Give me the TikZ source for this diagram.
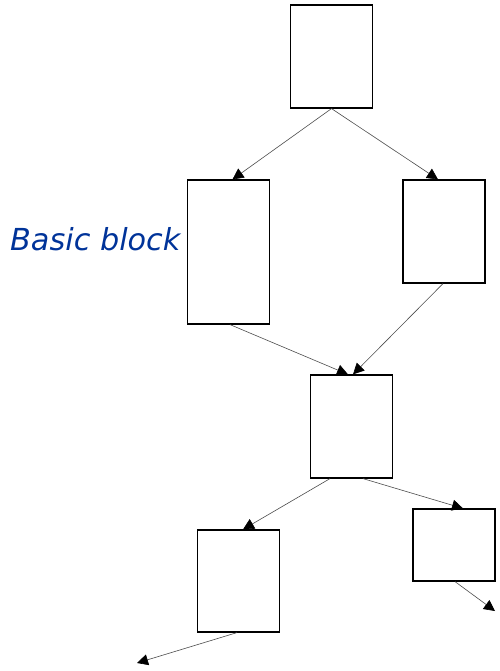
\documentclass[tikz,border=0pt]{standalone}
\usepackage[dvipsnames]{xcolor}
\usepackage{fontspec}
\newfontfamily\labelfont{DejaVu Sans}
\usetikzlibrary{arrows.meta}
\definecolor{bbblue}{RGB}{0,51,153}

\begin{document}
\begin{tikzpicture}[x=1pt,y=-1pt,shorten >=0pt,thin,block node/.style={rectangle,draw,line width=1.2pt,inner sep=0pt,minimum width=82pt},flow/.style={draw=black!70,line width=0.6pt,-{Triangle[length=11pt,width=11pt,color=black]}}]
                \useasboundingbox (0,0) rectangle (499,671);
                \node[block node,minimum height=103pt] (1) at (331.5,56.5) {};
                \node[block node,minimum height=144pt] (2) at (228.5,252) {};
                \node[block node,minimum height=103pt] (3) at (444,231.5) {};
                \node[block node,minimum height=103pt] (4) at (351.5,426.5) {};
                \node[block node,minimum height=102pt] (5) at (238.5,581) {};
                \node[block node,minimum height=72pt] (6) at (454,545) {};
                \coordinate (7) at (137,663);
                \coordinate (8) at (495,611);
                \node[anchor=base west,inner sep=0pt,text=bbblue,font=\labelfont\itshape\fontsize{30.3}{36}\selectfont] (label) at (10,250) {Basic block};

                \path[every edge/.style={flow}]
                    (1.south) edge ([xshift=4pt]2.north)
                    (1.south) edge ([xshift=-6pt]3.north)
                    ([xshift=1.5pt]2.south) edge ([xshift=-3.5pt]4.north)
                    ([xshift=-1pt]3.south) edge ([xshift=1.5pt]4.north)
                    ([xshift=-21.5pt]4.south) edge ([xshift=4.5pt]5.north)
                    ([xshift=11.5pt]4.south) edge ([xshift=9pt]6.north)
                    ([xshift=-1.5pt]5.south) edge (7)
                    ([xshift=1pt]6.south) edge (8)
                ;
            \end{tikzpicture}
\end{document}
